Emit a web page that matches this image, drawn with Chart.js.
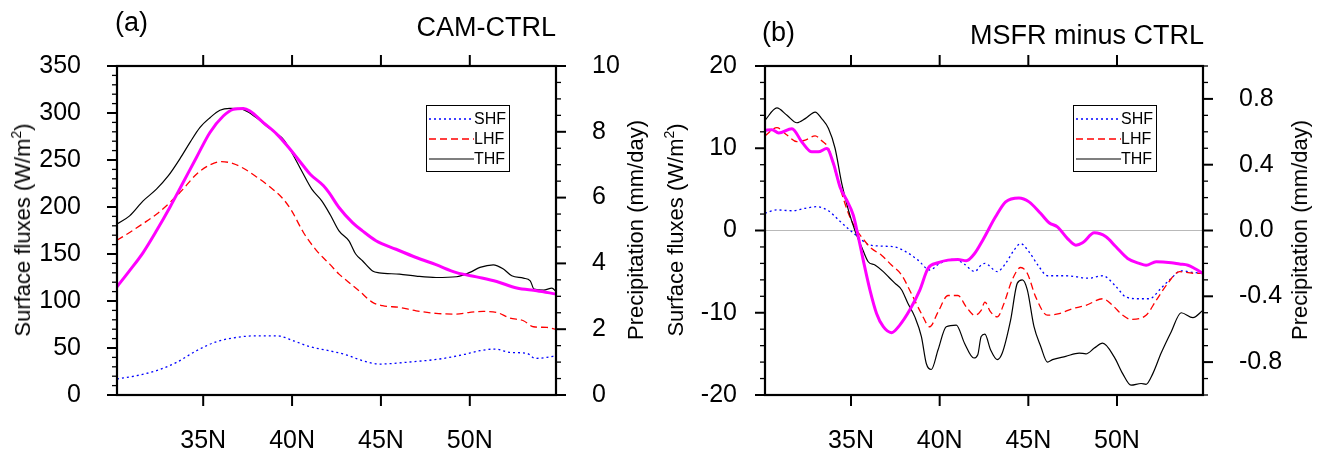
<!DOCTYPE html>
<html>
<head>
<meta charset="utf-8">
<script src="https://cdn.jsdelivr.net/npm/chart.js@4.4.1/dist/chart.umd.min.js"></script>
<style>
  body { margin: 0; background: #fff; font-family: "Liberation Sans", Arial, sans-serif; }
  #wrap { position: relative; width: 1320px; height: 451px; overflow: hidden; background: #fff; }
  canvas { position: absolute; top: 0; }
  .ttl { position: absolute; font-size: 27px; line-height: 27px; white-space: nowrap; color: #000; }
  .ax { position: absolute; font-size: 22px; line-height: 22px; white-space: nowrap; color: #000;
        transform: translate(-50%, -50%) rotate(-90deg); }
  .ax sup { font-size: 14px; line-height: 0; vertical-align: 9px; }
</style>
</head>
<body>
<div id="wrap">
  <canvas id="chartA" width="660" height="451" style="left:0"></canvas>
  <canvas id="chartB" width="660" height="451" style="left:660px"></canvas>

  <div class="ttl" style="left:115px; top:9px">(a)</div>
  <div class="ttl" style="right:764px; top:14px">CAM-CTRL</div>
  <div class="ttl" style="left:762px; top:19px">(b)</div>
  <div class="ttl" style="right:116px; top:22px">MSFR minus CTRL</div>

  <div class="ax" style="left:23px; top:230px">Surface fluxes (W/m<sup>2</sup>)</div>
  <div class="ax" style="left:636px; top:230px">Precipitation (mm/day)</div>
  <div class="ax" style="left:676px; top:230px">Surface fluxes (W/m<sup>2</sup>)</div>
  <div class="ax" style="left:1300px; top:230px">Precipitation (mm/day)</div>
</div>

<script>
// latitude axis
const latMin = 30.15;
const latMax = 54.85;
const latTicks = [35, 40, 45, 50];

// ---- (a) CAM-CTRL ----
const fluxTicksA = [0, 50, 100, 150, 200, 250, 300, 350];
const precTicksA = [0, 2, 4, 6, 8, 10];

const thfLatA = [30.15, 30.86, 31.62, 32.37, 33.03, 33.68, 34.25, 34.81, 35.38, 35.94, 36.5, 37.07, 37.44, 38.0, 38.57, 39.14, 39.51, 39.98, 40.55, 41.11, 41.67, 42.14, 42.64, 43.2, 43.58, 43.96, 44.53, 44.9, 46.04, 46.98, 48.1, 49.25, 50.0, 50.57, 51.32, 51.89, 52.36, 53.02, 53.4, 53.62, 54.15, 54.62, 54.85];
const thfA = [182, 190.6, 206.5, 219, 233, 251, 268.5, 284.5, 295, 303, 305, 304.6, 302, 295, 286, 278, 272, 258, 238, 219, 206.5, 192, 174.6, 164, 150, 142.8, 132, 130, 128.6, 126.5, 125, 125.8, 130.4, 135.7, 138.5, 134, 126.8, 124.3, 121.5, 112.6, 111.6, 113.7, 110];

const lhfLatA = [30.15, 30.86, 31.62, 32.37, 33.12, 33.87, 34.62, 35.38, 36.03, 36.69, 37.26, 38.0, 38.76, 39.51, 39.98, 40.64, 41.39, 42.13, 42.64, 43.2, 43.77, 44.53, 45.09, 46.04, 46.98, 48.1, 49.25, 50.0, 50.75, 51.5, 52.26, 53.02, 53.58, 54.34, 54.85];
const lhfA = [164.7, 172.9, 182.4, 192.3, 204.7, 219, 234.9, 244.8, 248.3, 246.2, 241.2, 232, 221.4, 208.3, 195.9, 172.9, 153.4, 139, 128.6, 119.7, 110.9, 98.5, 95, 93.2, 89.6, 86.8, 86.1, 87.9, 88.9, 87.9, 81.8, 79, 72.6, 71.9, 69.8];

const shfLatA = [30.15, 31.24, 32.37, 33.5, 34.62, 35.75, 36.88, 38.0, 39.14, 40.08, 41.0, 42.08, 43.02, 43.96, 44.9, 46.79, 48.3, 49.62, 50.57, 51.42, 52.26, 53.21, 53.68, 54.34, 54.85];
const shfA = [17, 20.5, 25.9, 34.7, 47.1, 56.7, 61.3, 63, 63, 57.7, 51.4, 47.1, 42.9, 36.5, 32.9, 35.4, 38.3, 42.9, 47.1, 48.9, 45.3, 44.3, 39, 40, 41.8];

const prLatA = [30.15, 30.86, 31.62, 32.37, 33.12, 33.87, 34.62, 35.38, 36.13, 36.69, 37.26, 37.63, 38.38, 39.14, 39.89, 40.64, 41.02, 41.77, 42.08, 42.64, 43.4, 43.96, 44.72, 45.85, 46.98, 48.1, 49.25, 50.38, 51.51, 52.64, 53.77, 54.85];
const prA = [3.29, 3.78, 4.33, 4.99, 5.70, 6.46, 7.22, 7.98, 8.48, 8.68, 8.71, 8.63, 8.28, 7.93, 7.47, 6.96, 6.71, 6.36, 6.15, 5.70, 5.24, 4.99, 4.69, 4.43, 4.18, 3.96, 3.72, 3.59, 3.45, 3.25, 3.17, 3.07];

// ---- (b) MSFR minus CTRL ----
const fluxTicksB = [-20, -10, 0, 10, 20];
const precTicksB = [-0.8, -0.4, 0, 0.4, 0.8];

const thfLatB = [30.15, 30.82, 31.39, 31.95, 32.42, 32.98, 33.35, 33.73, 34.1, 34.48, 34.85, 35.22, 35.6, 35.97, 36.35, 36.82, 37.19, 37.47, 37.85, 38.22, 38.6, 38.97, 39.25, 39.53, 39.91, 40.37, 40.94, 41.4, 41.93, 42.15, 42.34, 42.55, 42.87, 43.25, 43.53, 44.0, 44.38, 44.66, 44.94, 45.32, 45.7, 46.08, 46.36, 47.11, 47.87, 48.25, 48.72, 49.19, 49.85, 50.32, 50.79, 51.36, 51.64, 52.02, 52.49, 53.06, 53.62, 54.28, 54.85];
const thfB = [13.4, 14.9, 14.0, 13.1, 13.6, 14.4, 13.6, 12.4, 10.0, 5.7, 2.5, 0.0, -2.0, -3.8, -4.2, -5.0, -5.8, -6.4, -7.2, -8.9, -10.5, -12.9, -16.2, -16.9, -14.5, -11.7, -11.5, -13.7, -15.5, -15.1, -12.9, -12.6, -14.5, -15.7, -14.9, -10.9, -6.4, -6.0, -7.2, -11.7, -14.1, -16.0, -15.7, -15.3, -14.9, -15.0, -14.3, -13.7, -15.4, -17.4, -18.8, -18.6, -18.7, -17.4, -14.9, -12.3, -10.0, -10.6, -9.7];

const lhfLatB = [30.15, 30.82, 31.39, 31.95, 32.42, 32.98, 33.35, 33.73, 34.1, 34.48, 34.85, 35.22, 35.6, 36.16, 36.72, 37.28, 37.85, 38.41, 38.97, 39.44, 39.91, 40.47, 41.03, 41.5, 41.97, 42.34, 42.55, 42.87, 43.25, 43.62, 44.09, 44.57, 44.94, 45.42, 46.08, 46.74, 47.49, 48.25, 49.19, 49.75, 50.32, 50.79, 51.64, 52.21, 52.87, 53.53, 54.28, 54.85];
const lhfB = [11.5, 12.5, 11.6, 10.8, 11.0, 11.5, 10.9, 10.0, 7.3, 4.5, 2.1, 0.4, -0.8, -2.2, -3.0, -4.2, -5.4, -7.7, -10.1, -11.7, -9.9, -7.9, -7.9, -9.3, -10.3, -9.7, -8.7, -9.9, -10.5, -8.9, -6.0, -4.5, -5.2, -8.1, -10.3, -10.1, -9.5, -9.1, -8.3, -9.1, -10.3, -10.8, -10.3, -8.5, -6.4, -5.0, -5.2, -5.2];

const shfLatB = [30.15, 30.82, 31.67, 32.42, 33.07, 33.73, 34.29, 34.85, 35.41, 35.97, 36.72, 37.47, 38.03, 38.78, 39.44, 40.0, 40.84, 41.4, 41.97, 42.34, 42.55, 43.25, 43.72, 44.19, 44.57, 45.04, 45.6, 46.08, 47.11, 48.43, 49.19, 49.94, 50.51, 51.26, 51.83, 52.49, 53.06, 53.62, 54.28, 54.85];
const shfB = [2.1, 2.5, 2.4, 2.7, 2.9, 2.4, 1.3, 0.2, -0.8, -1.7, -1.9, -2.0, -2.5, -3.6, -4.8, -4.0, -3.5, -4.1, -5.0, -4.2, -4.0, -5.0, -4.0, -2.4, -1.6, -2.6, -4.4, -5.5, -5.5, -5.8, -5.5, -6.8, -8.1, -8.3, -8.3, -7.0, -5.8, -4.9, -5.1, -5.2];

const prLatB = [30.15, 30.54, 30.92, 31.67, 32.23, 32.79, 33.16, 33.63, 34.01, 34.38, 34.76, 35.13, 35.41, 35.69, 36.07, 36.44, 36.82, 37.28, 37.75, 38.31, 38.88, 39.34, 39.91, 40.47, 41.03, 41.5, 41.97, 42.43, 43.15, 43.72, 44.47, 45.04, 45.7, 46.17, 46.64, 47.21, 47.68, 48.06, 48.72, 49.38, 49.94, 50.6, 51.26, 51.64, 52.21, 53.06, 53.53, 54.0, 54.38, 54.85];
const prB = [0.609, 0.613, 0.593, 0.619, 0.538, 0.478, 0.478, 0.498, 0.407, 0.265, 0.184, 0.093, -0.038, -0.18, -0.362, -0.504, -0.585, -0.621, -0.575, -0.484, -0.362, -0.231, -0.196, -0.18, -0.176, -0.184, -0.14, -0.059, 0.083, 0.174, 0.198, 0.174, 0.103, 0.047, 0.022, -0.049, -0.089, -0.075, -0.014, -0.038, -0.099, -0.17, -0.2, -0.211, -0.19, -0.196, -0.204, -0.211, -0.231, -0.261];

const FONT = '"Liberation Sans", Arial, sans-serif';

const pts = (xs, ys) => xs.map((x, i) => ({ x: x, y: ys[i] }));

// every minor step between min and max
const stepTicks = (min, max, step) => {
  const out = [];
  const n = Math.round((max - min) / step);
  for (let i = 0; i <= n; i++) out.push({ value: +(min + i * step).toFixed(6) });
  return out;
};

const onStep = (v, step) => Math.abs(v / step - Math.round(v / step)) < 1e-6;

// box, outward ticks (long major / short minor) and the little legend
const frame = {
  id: 'frame',
  afterDatasetsDraw(chart, args, opts) {
    const { ctx, chartArea: a, scales } = chart;
    ctx.save();
    ctx.strokeStyle = '#000';
    ctx.setLineDash([]);

    ctx.lineWidth = 2;
    scales.x.ticks.forEach((t) => {
      const px = scales.x.getPixelForValue(t.value);
      ctx.beginPath();
      ctx.moveTo(px, a.top); ctx.lineTo(px, a.top - 11);
      ctx.moveTo(px, a.bottom); ctx.lineTo(px, a.bottom + 11);
      ctx.stroke();
    });

    ['y', 'y1'].forEach((id) => {
      const s = scales[id];
      const major = opts.major[id];
      const dir = s.position === 'left' ? -1 : 1;
      const x0 = dir < 0 ? a.left : a.right;
      s.ticks.forEach((t) => {
        const big = onStep(t.value, major);
        const py = s.getPixelForValue(t.value);
        ctx.lineWidth = big ? 2 : 1.3;
        ctx.beginPath();
        ctx.moveTo(x0, py);
        ctx.lineTo(x0 + dir * (big ? 10 : 5), py);
        ctx.stroke();
      });
    });

    ctx.lineWidth = 2.2;
    ctx.strokeRect(a.left, a.top, a.right - a.left, a.bottom - a.top);

    // legend
    const bw = 83, bh = 66;
    const bx = a.right - 47 - bw, by = a.top + 39;
    ctx.fillStyle = '#fff';
    ctx.fillRect(bx, by, bw, bh);
    ctx.lineWidth = 1;
    ctx.strokeRect(bx + 0.5, by + 0.5, bw, bh);
    ctx.font = '16px ' + FONT;
    ctx.textBaseline = 'middle';
    ctx.textAlign = 'left';
    opts.legend.forEach((name, i) => {
      const ds = chart.data.datasets.find((d) => d.label === name);
      const y = by + 14 + i * 20;
      ctx.strokeStyle = ds.borderColor;
      ctx.lineWidth = ds.borderWidth;
      ctx.setLineDash(ds.borderDash || []);
      ctx.beginPath();
      ctx.moveTo(bx + 3, y);
      ctx.lineTo(bx + 48, y);
      ctx.stroke();
      ctx.setLineDash([]);
      ctx.fillStyle = '#000';
      ctx.fillText(name, bx + 48, y + 1);
    });
    ctx.restore();
  }
};

function makePanel(id, p) {
  const tickFont = { family: FONT, size: 25 };
  return new Chart(document.getElementById(id), {
    type: 'line',
    data: {
      datasets: [
        { label: 'PRECT', data: pts(p.prLat, p.pr), yAxisID: 'y1', borderColor: '#ff00ff', borderWidth: 3 },
        { label: 'THF', data: pts(p.thfLat, p.thf), yAxisID: 'y', borderColor: '#000000', borderWidth: 1.2 },
        { label: 'LHF', data: pts(p.lhfLat, p.lhf), yAxisID: 'y', borderColor: '#ff0000', borderWidth: 1.3, borderDash: [7, 4] },
        { label: 'SHF', data: pts(p.shfLat, p.shf), yAxisID: 'y', borderColor: '#0000ff', borderWidth: 1.3, borderDash: [2, 3] }
      ]
    },
    options: {
      responsive: false,
      animation: false,
      devicePixelRatio: 1,
      layout: { padding: { top: 66, left: 0, right: 0, bottom: 0 } },
      elements: {
        point: { radius: 0 },
        line: { cubicInterpolationMode: 'monotone', fill: false }
      },
      plugins: {
        legend: { display: false },
        tooltip: { enabled: false },
        frame: { major: { y: p.yMajor, y1: p.y1Major }, legend: ['SHF', 'LHF', 'THF'] }
      },
      scales: {
        x: {
          type: 'linear',
          min: latMin,
          max: latMax,
          afterBuildTicks: (s) => { s.ticks = latTicks.map((v) => ({ value: v })); },
          afterFit: (s) => { s.height = 56; },
          grid: { display: false },
          border: { display: false },
          ticks: { font: tickFont, color: '#000', padding: 23, autoSkip: false, maxRotation: 0,
                   callback: (v) => v + 'N' }
        },
        y: {
          position: 'left',
          min: p.yTicks[0],
          max: p.yTicks[p.yTicks.length - 1],
          afterBuildTicks: (s) => { s.ticks = stepTicks(s.min, s.max, p.yMinor); },
          afterFit: (s) => { s.width = p.leftW; },
          grid: p.zeroLine
            ? { display: true, drawTicks: false, lineWidth: 1,
                color: (c) => (c.tick && Math.abs(c.tick.value) < 1e-9 ? '#b9b9b9' : 'rgba(0,0,0,0)') }
            : { display: false },
          border: { display: false },
          ticks: { font: tickFont, color: '#000', padding: 28, autoSkip: false,
                   callback: (v) => (p.yTicks.some((t) => Math.abs(t - v) < 1e-6) ? String(Math.round(v)) : '') }
        },
        y1: {
          position: 'right',
          min: p.y1Min,
          max: p.y1Max,
          afterBuildTicks: (s) => { s.ticks = stepTicks(s.min, s.max, p.y1Minor); },
          afterFit: (s) => { s.width = p.rightW; },
          grid: { display: false },
          border: { display: false },
          ticks: { font: tickFont, color: '#000', padding: 28, autoSkip: false,
                   callback: (v) => (p.y1Ticks.some((t) => Math.abs(t - v) < 1e-6) ? (+v).toFixed(p.y1Dec) : '') }
        }
      }
    },
    plugins: [frame]
  });
}

makePanel('chartA', {
  thfLat: thfLatA, thf: thfA, lhfLat: lhfLatA, lhf: lhfA, shfLat: shfLatA, shf: shfA, prLat: prLatA, pr: prA,
  yTicks: fluxTicksA, yMajor: 50, yMinor: 10,
  y1Ticks: precTicksA, y1Min: 0, y1Max: 10, y1Major: 2, y1Minor: 0.5, y1Dec: 0,
  leftW: 117, rightW: 104, zeroLine: false
});

makePanel('chartB', {
  thfLat: thfLatB, thf: thfB, lhfLat: lhfLatB, lhf: lhfB, shfLat: shfLatB, shf: shfB, prLat: prLatB, pr: prB,
  yTicks: fluxTicksB, yMajor: 10, yMinor: 2,
  y1Ticks: precTicksB, y1Min: -1, y1Max: 1, y1Major: 0.4, y1Minor: 0.1, y1Dec: 1,
  leftW: 105, rightW: 117, zeroLine: true
});
</script>
</body>
</html>
